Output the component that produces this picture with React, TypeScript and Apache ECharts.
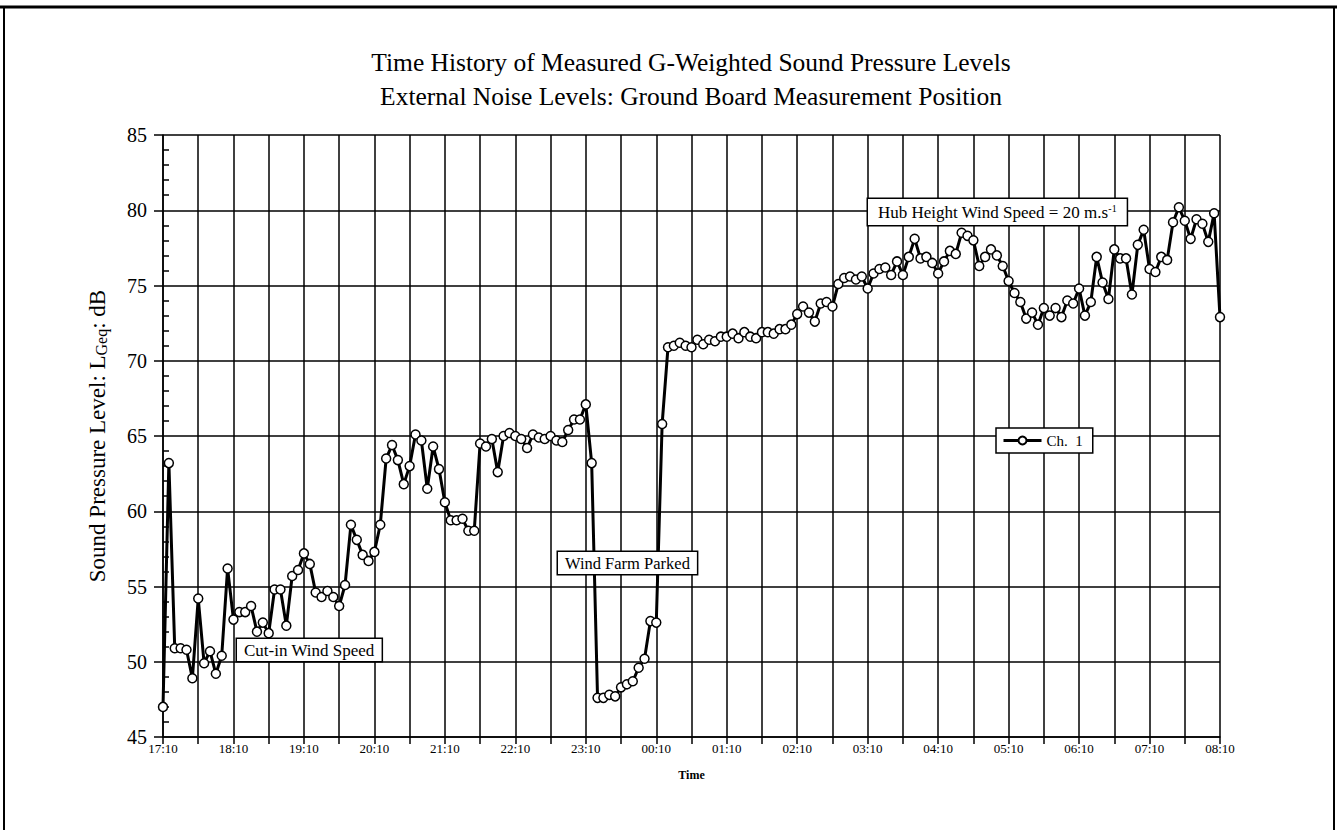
import React, { useEffect, useRef } from "react";
import * as echarts from "echarts";

const TITLE_LINE_1 = "Time History of Measured G-Weighted Sound Pressure Levels";
const TITLE_LINE_2 = "External Noise Levels: Ground Board Measurement Position";
const TIME_LABELS = ["17:10", "18:10", "19:10", "20:10", "21:10", "22:10", "23:10", "00:10", "01:10", "02:10", "03:10", "04:10", "05:10", "06:10", "07:10", "08:10"];
const STEP_MINUTES = 5;
const SERIES_NAME = "Ch.  1";
const LEVELS = [
  47.0, 63.2, 50.9, 50.9, 50.8, 48.9, 54.2, 49.9, 50.7, 49.2, 50.4, 56.2,
  52.8, 53.3, 53.3, 53.7, 52.0, 52.6, 51.9, 54.8, 54.8, 52.4, 55.7, 56.1,
  57.2, 56.5, 54.6, 54.3, 54.7, 54.3, 53.7, 55.1, 59.1, 58.1, 57.1, 56.7,
  57.3, 59.1, 63.5, 64.4, 63.4, 61.8, 63.0, 65.1, 64.7, 61.5, 64.3, 62.8,
  60.6, 59.4, 59.4, 59.5, 58.7, 58.7, 64.5, 64.3, 64.8, 62.6, 65.0, 65.2,
  65.0, 64.8, 64.2, 65.1, 64.9, 64.8, 65.0, 64.7, 64.6, 65.4, 66.1, 66.1,
  67.1, 63.2, 47.6, 47.6, 47.8, 47.7, 48.3, 48.5, 48.7, 49.6, 50.2, 52.7,
  52.6, 65.8, 70.9, 71.0, 71.2, 71.0, 70.9, 71.4, 71.1, 71.4, 71.3, 71.6,
  71.6, 71.8, 71.5, 71.9, 71.6, 71.5, 71.9, 71.9, 71.8, 72.1, 72.1, 72.4,
  73.1, 73.6, 73.2, 72.6, 73.8, 73.9, 73.6, 75.1, 75.5, 75.6, 75.4, 75.6,
  74.8, 75.8, 76.1, 76.2, 75.7, 76.6, 75.7, 76.9, 78.1, 76.8, 76.9, 76.5,
  75.8, 76.6, 77.3, 77.1, 78.5, 78.3, 78.0, 76.3, 76.9, 77.4, 77.0, 76.3,
  75.3, 74.5, 73.9, 72.8, 73.2, 72.4, 73.5, 73.0, 73.5, 72.9, 74.0, 73.8,
  74.8, 73.0, 73.9, 76.9, 75.2, 74.1, 77.4, 76.8, 76.8, 74.4, 77.7, 78.7,
  76.1, 75.9, 76.9, 76.7, 79.2, 80.2, 79.3, 78.1, 79.4, 79.1, 77.9, 79.8,
  72.9,
];
const Y_MIN = 45;
const Y_MAX = 85;
const Y_STEP = 5;
const ANNOT_CUT_IN = "Cut-in Wind Speed";
const ANNOT_PARKED = "Wind Farm Parked";

const SERIF = "'Liberation Serif', 'DejaVu Serif', serif";

export default function App() {
  const ref = useRef<HTMLDivElement>(null);

  useEffect(() => {
    if (!ref.current) return;
    const chart = echarts.init(ref.current, null, { renderer: "svg" });
    const data = LEVELS.map((v, i) => [i * STEP_MINUTES, v]);
    const maxMin = (TIME_LABELS.length - 1) * 60;

    const boxText = (x: number, y: number, text: string, size: number, pad: number[], rich?: any) => ({
      type: "text",
      x,
      y,
      z: 100,
      style: {
        text,
        fontFamily: SERIF,
        fontSize: size,
        fill: "#000",
        backgroundColor: "#fff",
        borderColor: "#000",
        borderWidth: 1.5,
        padding: pad,
        rich,
      },
    });

    chart.setOption({
      animation: false,
      backgroundColor: "#fff",
      textStyle: { fontFamily: SERIF, color: "#000" },
      grid: { left: 163, right: 117, top: 135, bottom: 93, containLabel: false },
      legend: {
        show: true,
        left: 996,
        top: 428,
        orient: "vertical",
        itemWidth: 38,
        itemHeight: 10,
        padding: [5, 10, 5, 6],
        borderColor: "#000",
        borderWidth: 1.5,
        backgroundColor: "#fff",
        lineStyle: { width: 3, color: "#000" },
        textStyle: { fontFamily: SERIF, fontSize: 15, color: "#000" },
        z: 100,
      },
      xAxis: {
        type: "value",
        min: 0,
        max: maxMin,
        interval: 30,
        name: "Time",
        nameLocation: "middle",
        nameGap: 32,
        nameTextStyle: { fontFamily: SERIF, fontSize: 12, fontWeight: "bold", color: "#000" },
        axisLine: { show: true, lineStyle: { color: "#000", width: 1.5 } },
        axisTick: { show: true, length: 7, lineStyle: { color: "#000", width: 1.5 } },
        axisLabel: {
          color: "#000",
          fontFamily: SERIF,
          fontSize: 13,
          margin: 5,
          showMinLabel: true,
          showMaxLabel: true,
          formatter: (v: number) => (v % 60 === 0 ? TIME_LABELS[v / 60] : ""),
        },
        splitLine: { show: true, lineStyle: { color: "#000", width: 1.5 } },
      },
      yAxis: [
        {
          type: "value",
          min: Y_MIN,
          max: Y_MAX,
          interval: Y_STEP,
          name: "{a|Sound Pressure Level: L}{s|Geq}{a|: dB}",
          nameLocation: "middle",
          nameGap: 52,
          nameTextStyle: {
            color: "#000",
            rich: {
              a: { fontFamily: SERIF, fontSize: 23, color: "#000", lineHeight: 28 },
              s: { fontFamily: SERIF, fontSize: 16, color: "#000", lineHeight: 28, padding: [9, 0, 0, 0] },
            },
          },
          axisLine: { show: true, lineStyle: { color: "#000", width: 1.5 } },
          axisTick: { show: true, length: 9, lineStyle: { color: "#000", width: 1.5 } },
          axisLabel: { color: "#000", fontFamily: SERIF, fontSize: 20, margin: 16 },
          splitLine: { show: true, lineStyle: { color: "#000", width: 1.5 } },
        },
        {
          type: "value",
          min: Y_MIN,
          max: Y_MAX,
          interval: Y_STEP,
          position: "left",
          axisLine: { show: false },
          axisTick: { show: false, inside: true },
          minorTick: { show: true, splitNumber: 5, length: 6, lineStyle: { color: "#000", width: 1.5 } },
          axisLabel: { show: false },
          splitLine: { show: false },
        },
      ],
      series: [
        {
          name: SERIES_NAME,
          type: "line",
          yAxisIndex: 0,
          data,
          symbol: "circle",
          symbolSize: 9,
          showSymbol: true,
          lineStyle: { color: "#000", width: 3 },
          itemStyle: { color: "#fff", borderColor: "#000", borderWidth: 1.5 },
          z: 10,
        },
      ],
      graphic: [
        { type: "line", shape: { x1: 0, y1: 7, x2: 1337, y2: 7 }, style: { stroke: "#000", lineWidth: 3 } },
        { type: "line", shape: { x1: 4, y1: 7, x2: 4, y2: 830 }, style: { stroke: "#000", lineWidth: 2 } },
        { type: "line", shape: { x1: 1334, y1: 7, x2: 1334, y2: 830 }, style: { stroke: "#000", lineWidth: 2 } },
        {
          type: "text",
          x: 691,
          y: 62,
          style: { text: TITLE_LINE_1, fontFamily: SERIF, fontSize: 25.5, fill: "#000", textAlign: "center", textVerticalAlign: "middle" },
        },
        {
          type: "text",
          x: 691,
          y: 96,
          style: { text: TITLE_LINE_2, fontFamily: SERIF, fontSize: 25.5, fill: "#000", textAlign: "center", textVerticalAlign: "middle" },
        },
        boxText(237, 639, ANNOT_CUT_IN, 17, [3, 7, 2, 7]),
        boxText(558, 552, ANNOT_PARKED, 16.5, [3, 7, 2, 7]),
        boxText(868, 199, "{t|Hub Height Wind Speed = 20 m.s}{sup|-1}", 17, [3, 10, 2, 10], {
          t: { fontFamily: SERIF, fontSize: 17, fill: "#000", lineHeight: 21 },
          sup: { fontFamily: SERIF, fontSize: 10, fill: "#000", lineHeight: 21, padding: [0, 0, 8, 0] },
        }),
      ],
    });

    return () => chart.dispose();
  }, []);

  return (
    <div
      ref={ref}
      style={{ position: "fixed", left: 0, top: 0, width: 1337, height: 830, background: "#fff" }}
    />
  );
}
